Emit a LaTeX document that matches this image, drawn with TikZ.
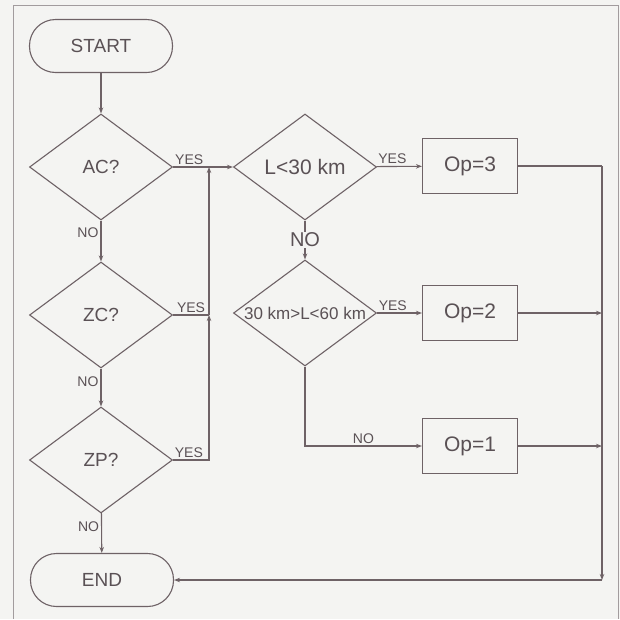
\documentclass[tikz,border=0pt]{standalone}
\usepackage{fontspec}
\setmainfont{Liberation Sans}
\usetikzlibrary{shapes.geometric,arrows.meta}
\definecolor{ink}{HTML}{6E6266}
\definecolor{txt}{HTML}{5A5155}
\definecolor{paper}{HTML}{F4F4F2}
\definecolor{rim}{HTML}{A29C9E}

\begin{document}
\begin{tikzpicture}[x=1pt,y=-1pt,>={Stealth[length=6pt,width=4.5pt]},line width=1.1pt,
  every node/.style={text=txt},
  terminal/.style={draw=ink,rectangle,rounded corners=26pt,minimum width=143pt,minimum height=53pt,font=\fontsize{19}{20}\selectfont},
  decision/.style={draw=ink,diamond,inner sep=0pt,minimum width=143pt,minimum height=106pt,font=\fontsize{19}{20}\selectfont},
  process/.style={draw=ink,rectangle,minimum width=95pt,minimum height=55pt,font=\fontsize{21}{22}\selectfont},
  tag/.style={font=\fontsize{14}{15}\selectfont,inner sep=2pt},
  flow/.style={draw=ink,->}]
  \fill[paper] (0,0) rectangle (620,619);
  \useasboundingbox (0,0) rectangle (620,619);
  \draw[rim,line width=0.8pt] (13,619) -- (13,5) -- (618,5) -- (618,619);
  % left column
  \node[terminal] (start) at (101,46) {START};
  \node[decision] (ac) at (101,167) {AC?};
  \node[decision] (zc) at (101,315) {ZC?};
  \node[decision] (zp) at (101,460) {ZP?};
  \node[terminal] (end) at (102,580) {END};
  % middle column and boxes
  \node[decision] (short) at (305,167) {\fontsize{21}{22}\selectfont L<30 km};
  \node[decision] (mid) at (305,313) {\makebox[0pt]{\fontsize{17}{18}\selectfont 30 km>L<60 km}};
  \node[process] (op3) at (470,166) {Op=3};
  \node[process] (op2) at (470,313) {Op=2};
  \node[process] (op1) at (470,446) {Op=1};
  \coordinate (join) at (209,167);
  \coordinate (zcjoin) at (209,315);
  \coordinate (rtop) at (602,166);
  \coordinate (rbot) at (602,580);
  \draw[flow] (start) -- (ac);
  \draw[flow] (ac) -- node[tag,left,pos=.3] {NO} (zc);
  \draw[flow] (zc) -- node[tag,left,pos=.35] {NO} (zp);
  \draw[flow] (zp) -- node[tag,left,pos=.35] {NO} (end);
  \draw[flow] (ac) -- node[tag,above,pos=.27] {YES} (short);
  \draw[draw=ink] (zc) -- node[tag,above] {YES} (zcjoin);
  \draw[flow] (zp) -| node[tag,above,pos=.22] {YES} (zcjoin);
  \draw[flow] (zcjoin) -- (join);
  \draw[flow] (short) -- node[tag,above,pos=.35] {YES} (op3);
  \draw[flow] (short) -- node[fill=paper,inner sep=1pt,font=\fontsize{20}{21}\selectfont] {NO} (mid);
  \draw[flow] (mid) -- node[tag,above,pos=.35] {YES} (op2);
  \draw[flow] (mid) |- node[tag,above,pos=.75] {NO} (op1);
  % all results down to END
  \draw[draw=ink] (op3) -- (rtop);
  \draw[flow] (rtop) -- (rbot);
  \draw[flow] (op2) -- (op2 -| rtop);
  \draw[flow] (op1) -- (op1 -| rtop);
  \draw[flow] (rbot) -- (end);
\end{tikzpicture}
\end{document}
